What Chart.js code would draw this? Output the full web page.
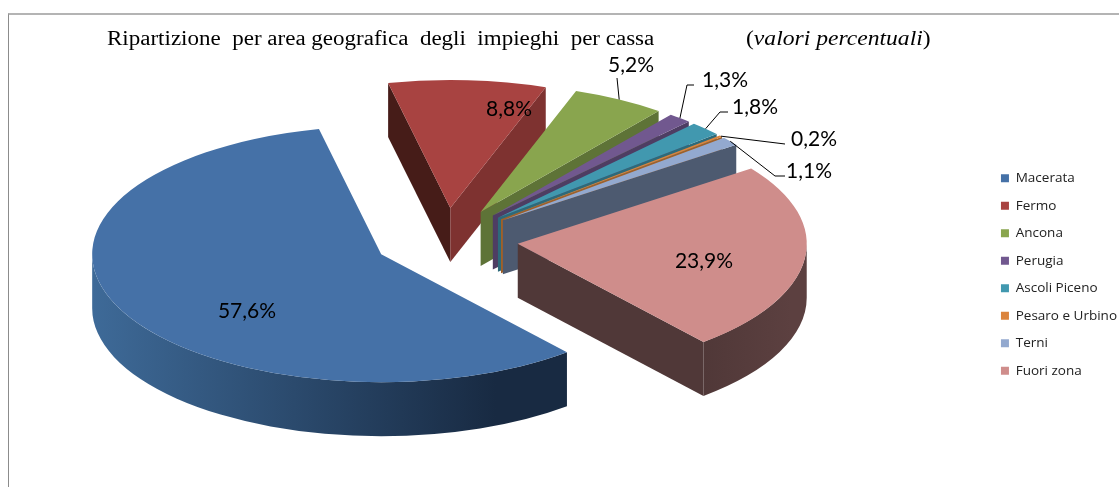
<!DOCTYPE html>
<html>
<head>
<meta charset="utf-8">
<title>Ripartizione per area geografica</title>
<script src="https://cdn.jsdelivr.net/npm/chart.js@4"></script>
<style>
  body { margin: 0; background: #fff; }
  #wrap { position: relative; width: 1119px; height: 487px; overflow: hidden; }
  #frame { position: absolute; left: 8px; top: 13px; right: -5px; bottom: -5px;
           border-top: 2px solid #b4b4b4; border-left: 1px solid #8c8c8c; }
  #title { position: absolute; top: 27px; left: 0; font: 20px "Liberation Serif", serif;
           color: #000; white-space: nowrap; }
  #title span { position: absolute; top: 0; transform-origin: left top; }
</style>
</head>
<body>
<div id="wrap">
  <canvas id="chart" width="1119" height="487"></canvas>
  <div id="frame"></div>
  <div id="title">
    <span style="left:107px; transform:scaleX(1.15)">Ripartizione&nbsp; per area geografica&nbsp; degli&nbsp; impieghi&nbsp; per cassa</span>
    <span style="left:746px; transform:scaleX(1.18)">(<i>valori percentuali</i>)</span>
  </div>
</div>
<script>
/* =====================================
   DATA
======================================== */
const categories = ["Macerata", "Fermo", "Ancona", "Perugia", "Ascoli Piceno", "Pesaro e Urbino", "Terni", "Fuori zona"];
const shares = [57.6, 8.8, 5.2, 1.3, 1.8, 0.2, 1.1, 23.9];

/* =====================================
   STYLE
======================================== */
const topColors = ["#4571A7", "#A84341", "#89A54E", "#71588F", "#4198AF", "#DB843D", "#93A9CF", "#CF8D8B"];
// wall along the slice's closing edge (null = faces away from the viewer)
const edgeColors = [null, "#7E3230", "#5E7337", "#4E3D63", "#2D6A7A", "#A06028", "#4D5A70", "#503838"];
const fermoBackWall = "#461C18";
const rimColors = { 0: ["#3E6A98", "#182A42"], 7: ["#503838", "#5C4040"] };

const pieCenter = { x: 446, y: 240 };
const pieRadius = 289;
const tilt = 0.443;     // vertical squash of the pie
const explode = 0.25;   // share of the radius
const depth = 54;

// label centre, then optional elbow of the leader line
const labelSpots = [
    { x: 247, y: 311 },
    { x: 509, y: 109 },
    { x: 631, y: 65, leader: [[617, 78]] },
    { x: 725, y: 80, leader: [[687, 85], [694, 85]] },
    { x: 755, y: 107, leader: [[720, 112], [728, 112]] },
    { x: 814, y: 139, leader: [[785, 144]] },
    { x: 809, y: 171, leader: [[775, 176], [785, 176]] },
    { x: 704, y: 261 }
];

/* =====================================
   3D PIE PLUGIN
======================================== */
function sliceGeometry(arc) {
    const mid = (arc.startAngle + arc.endAngle) / 2;
    const rx = arc.outerRadius;
    const ry = rx * tilt;
    return {
        mid, rx, ry,
        cx: pieCenter.x + Math.cos(mid) * explode * rx,
        cy: pieCenter.y + Math.sin(mid) * explode * ry
    };
}

function edgeWall(ctx, g, angle, color) {
    const px = g.cx + Math.cos(angle) * g.rx;
    const py = g.cy + Math.sin(angle) * g.ry;
    ctx.fillStyle = color;
    ctx.beginPath();
    ctx.moveTo(g.cx, g.cy);
    ctx.lineTo(px, py);
    ctx.lineTo(px, py + depth);
    ctx.lineTo(g.cx, g.cy + depth);
    ctx.closePath();
    ctx.fill();
}

function rimWall(ctx, g, arc, colors) {
    // the front half of the ellipse is 0..PI, also checked one turn on
    [0, 2 * Math.PI].forEach(turn => {
        const a0 = Math.max(arc.startAngle, turn);
        const a1 = Math.min(arc.endAngle, turn + Math.PI);
        if (a1 <= a0) return;
        const left = g.cx + Math.cos(a1) * g.rx;
        const right = g.cx + Math.cos(a0) * g.rx;
        const fill = ctx.createLinearGradient(left, 0, right, 0);
        fill.addColorStop(0, colors[0]);
        fill.addColorStop(0.85, colors[1]);
        fill.addColorStop(1, colors[1]);
        ctx.fillStyle = fill;
        ctx.beginPath();
        ctx.ellipse(g.cx, g.cy, g.rx, g.ry, 0, a0, a1);
        ctx.ellipse(g.cx, g.cy + depth, g.rx, g.ry, 0, a1, a0, true);
        ctx.closePath();
        ctx.fill();
    });
}

const pie3d = {
    id: "pie3d",
    beforeDatasetDraw(chart, args) {
        const ctx = chart.ctx;
        const order = args.meta.data
            .map((arc, i) => ({ arc, i, g: sliceGeometry(arc) }))
            .sort((a, b) => Math.sin(a.g.mid) - Math.sin(b.g.mid));

        order.forEach(({ arc, i, g }) => {
            if (i === 1) edgeWall(ctx, g, arc.startAngle, fermoBackWall);
            if (edgeColors[i]) edgeWall(ctx, g, arc.endAngle, edgeColors[i]);
            if (rimColors[i]) rimWall(ctx, g, arc, rimColors[i]);

            ctx.save();
            ctx.translate(g.cx, g.cy);
            ctx.scale(1, tilt);
            ctx.translate(-arc.x, -arc.y);
            arc.draw(ctx);
            ctx.restore();
        });
        return false;
    },
    afterDatasetsDraw(chart) {
        const ctx = chart.ctx;
        const arcs = chart.getDatasetMeta(0).data;
        ctx.save();
        ctx.font = '21px Lato, sans-serif';
        ctx.fillStyle = "#000";
        ctx.strokeStyle = "#000";
        ctx.lineWidth = 1;
        ctx.textAlign = "center";
        ctx.textBaseline = "middle";
        arcs.forEach((arc, i) => {
            const spot = labelSpots[i];
            if (spot.leader) {
                const g = sliceGeometry(arc);
                ctx.beginPath();
                ctx.moveTo(g.cx + Math.cos(g.mid) * g.rx, g.cy + Math.sin(g.mid) * g.ry);
                spot.leader.forEach(p => ctx.lineTo(p[0], p[1]));
                ctx.stroke();
            }
            ctx.fillText(shares[i].toFixed(1).replace(".", ",") + "%", spot.x, spot.y);
        });
        ctx.restore();
    }
};

/* =====================================
   CHART
======================================== */
const chart = new Chart(document.getElementById("chart"), {
    type: "pie",
    data: {
        labels: categories,
        datasets: [{
            data: shares,
            backgroundColor: topColors,
            borderWidth: 0,
            radius: pieRadius
        }]
    },
    options: {
        responsive: false,
        animation: false,
        rotation: 140,
        layout: { padding: { top: 62, right: -8 } },
        plugins: {
            legend: {
                position: "right",
                labels: {
                    boxWidth: 8,
                    boxHeight: 8,
                    padding: 14,
                    color: "#222",
                    font: { family: "'Open Sans'", size: 13.5 }
                }
            },
            tooltip: { enabled: false }
        }
    },
    plugins: [pie3d]
});
</script>
</body>
</html>
